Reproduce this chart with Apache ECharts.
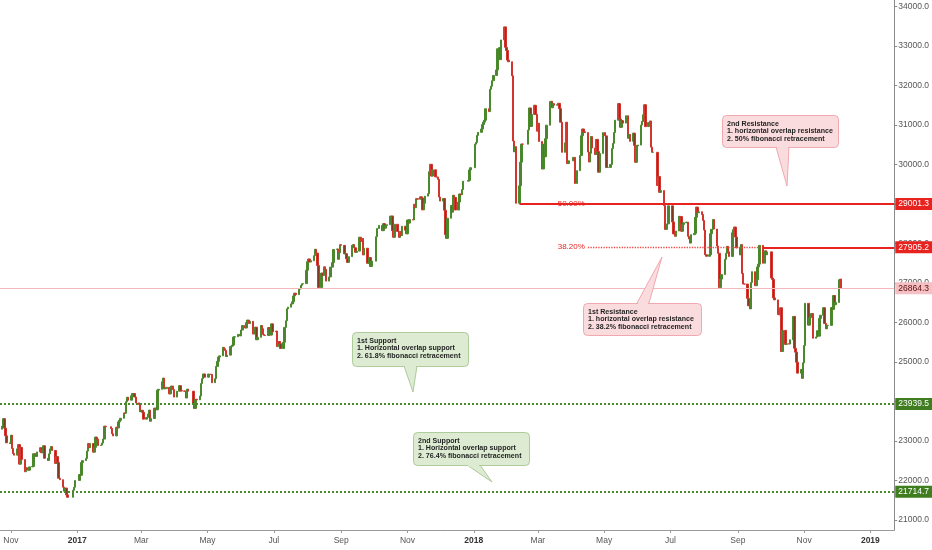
<!DOCTYPE html>
<html>
<head>
<meta charset="utf-8">
<script src="https://cdn.jsdelivr.net/npm/echarts@6/dist/echarts.min.js"></script>
<style>
html,body{margin:0;padding:0;background:#fff;}
#chart{width:932px;height:550px;}
</style>
</head>
<body>
<div id="chart"></div>
<script>
// ---- data ----
const months = ['2016-10','2016-11','2016-12','2017-01','2017-02','2017-03','2017-04','2017-05','2017-06','2017-07','2017-08','2017-09','2017-10','2017-11','2017-12','2018-01','2018-02','2018-03','2018-04','2018-05','2018-06','2018-07','2018-08','2018-09','2018-10','2018-11','2018-12'];
const tradingDays = [
 [24,25,26,27,28,31],
 [1,2,3,4,7,8,9,10,11,14,15,16,17,18,21,22,23,24,25,28,29,30],
 [1,2,5,6,7,8,9,12,13,14,15,16,19,20,21,22,23,28,29,30],
 [3,4,5,6,9,10,11,12,13,16,17,18,19,20,23,24,25,26,27],
 [1,2,3,6,7,8,9,10,13,14,15,16,17,20,21,22,23,24,27,28],
 [1,2,3,6,7,8,9,10,13,14,15,16,17,20,21,22,23,24,27,28,29,30,31],
 [3,5,6,7,10,11,12,13,18,19,20,21,24,25,26,27,28],
 [2,4,5,8,9,10,11,12,15,16,17,18,19,22,23,24,25,26,29,31],
 [1,2,5,6,7,8,9,12,13,14,15,16,19,20,21,22,23,26,27,28,29,30],
 [3,4,5,6,7,10,11,12,13,14,17,18,19,20,21,24,25,26,27,28,31],
 [1,2,3,4,7,8,9,10,11,14,15,16,17,18,21,22,24,25,28,29,30,31],
 [1,4,5,6,7,8,11,12,13,14,15,18,19,20,21,22,25,26,27,28,29],
 [3,4,6,9,10,11,12,13,16,17,18,19,20,23,24,25,26,27,30,31],
 [1,2,3,6,7,8,9,10,13,14,15,16,17,20,21,22,23,24,27,28,29,30],
 [1,4,5,6,7,8,11,12,13,14,15,18,19,20,21,22,27,28,29],
 [2,3,4,5,8,9,10,11,12,15,16,17,18,19,22,23,24,25,26,29,30,31],
 [1,2,5,6,7,8,9,12,13,14,15,20,21,22,23,26,27,28],
 [1,2,5,6,7,8,9,12,13,14,15,16,19,20,21,22,23,26,27,28,29],
 [3,4,6,9,10,11,12,13,16,17,18,19,20,23,24,25,26,27,30],
 [2,3,4,7,8,9,10,11,14,15,16,17,18,21,23,24,25,28,29,30,31],
 [1,4,5,6,7,8,11,12,13,14,15,19,20,21,22,25,26,27,28,29],
 [3,4,5,6,9,10,11,12,13,16,17,18,19,20,23,24,25,26,27,30,31],
 [1,2,3,6,7,8,9,10,13,14,15,16,17,20,21,22,23,24,27,28,29,30,31],
 [3,4,5,6,7,10,11,12,13,14,17,18,19,20,21,24,26,27,28],
 [2,3,4,5,8,9,10,11,12,15,16,18,19,22,23,24,25,26,29,30,31],
 [1,2,5,6,7,8,9,12,13,14,15,16,19,20,21,22,23,26,27,28,29,30],
 [3,4,5]
];
const firstOpen = 23300;
const closes = [
 [23374,23565,23325,23132,22954,22934],
 [23147,22810,22683,22642,22801,22909,22415,22839,22531,22222,22323,22280,22262,22344,22357,22677,22676,22608,22723,22830,22703,22789],
 [22878,22564,22505,22675,22800,22861,22760,22433,22605,22457,22059,22020,21832,21729,21809,21636,21575,21754,21830,22001],
 [22150,22134,22456,22503,22558,22745,22935,22830,22937,22718,22840,23098,23050,22885,22898,22949,23049,23374,23361],
 [23318,23184,23129,23348,23331,23485,23525,23575,23711,23703,23994,24108,24033,24146,24201,24202,24114,23965,23925,23741],
 [23776,23728,23553,23596,23681,23782,23501,23568,23829,23827,23792,24288,24309,24501,24593,24320,24327,24358,24193,24345,24392,24301,24112],
 [24261,24400,24273,24267,24262,24088,24313,24262,23924,23825,24056,24042,24139,24455,24578,24698,24615],
 [24696,24683,24476,24577,24889,25015,25125,25156,25371,25335,25293,25137,25174,25391,25403,25428,25631,25639,25701,25661],
 [25810,25924,25862,25997,26063,25975,26030,25708,25852,25881,25565,25626,25924,25843,25694,25675,25670,25871,25839,25683,25965,25765],
 [25785,25390,25521,25465,25341,25500,25877,26043,26346,26389,26470,26524,26672,26741,26706,26847,26852,26941,26979,26985,27324],
 [27540,27607,27531,27563,27691,27854,27757,27444,26884,27250,27191,27409,27344,27048,27154,27402,27518,27848,27863,27600,27765,27970],
 [27953,27740,27741,27613,27522,27668,27955,27972,27893,27778,27808,28160,28051,28127,27710,27881,27500,27513,27642,27421,27554],
 [28173,28379,28458,28326,28502,28389,28459,28476,28692,28697,28325,28159,28487,28305,28155,28302,28202,28438,28338,28246],
 [28594,28518,28604,28596,28994,28907,29136,29121,29182,29153,28852,29018,29199,29260,29818,30004,29708,29866,29686,29681,29624,29177],
 [29074,29139,28843,28225,28132,28640,28965,28793,29222,29166,28848,29050,29253,29234,29367,29578,29597,29864,29919],
 [30515,30560,30736,30815,30899,31011,31074,31121,31412,31339,31905,31983,32121,32255,32394,32930,32959,32654,33154,33484,32967,32887],
 [32642,32601,32245,30595,30323,30451,29020,29460,30060,30516,30515,30873,31432,30965,31268,31499,31269,30845],
 [31044,30583,29886,30511,30197,30654,30996,31595,31601,31436,31541,31502,31514,31549,31414,31071,30309,30548,31070,30023,30093],
 [30180,29519,29845,30229,30729,30898,30831,30809,30316,30063,30284,30708,30419,30254,30636,30328,29805,30281,30808],
 [30724,29926,29927,30002,30402,30536,30810,31122,31541,31152,30943,31110,31048,31235,30665,30760,30588,30793,30485,30057,30469],
 [30492,31000,31093,31260,31512,30959,31064,31103,30440,30309,30309,29468,29696,29296,29339,28961,28357,28356,28497,28955],
 [28546,28242,28182,28316,28689,28683,28311,28481,28525,28540,28182,28117,28010,28224,28257,28663,28921,28781,28804,28733,28583],
 [28341,27715,27677,27714,28248,28359,28607,28367,27937,27753,26888,27100,27213,27599,27752,27928,27791,27672,28272,28351,28416,28164,27889],
 [27713,27973,27243,26975,26974,26613,26423,26345,27015,27286,26932,27085,27407,27478,27954,27500,27817,27716,27789],
 [27126,27092,26623,26573,26203,26193,26373,25267,25801,25446,25462,25455,25562,26154,25347,25250,24995,24718,24813,24586,24980],
 [25416,26486,25935,26121,26148,26228,25602,25633,25792,25655,26104,26184,26373,25976,25841,25928,25928,26377,26332,26683,26452,26507],
 [27080,27100,26864.3]
];
const yTickValues = [21000,22000,23000,24000,25000,26000,27000,28000,29000,30000,31000,32000,33000,34000];
const xTickMonths = ['2016-11','2017-01','2017-03','2017-05','2017-07','2017-09','2017-11','2018-01','2018-03','2018-05','2018-07','2018-09','2018-11','2019-01'];
const monthNames = ['Jan','Feb','Mar','Apr','May','Jun','Jul','Aug','Sep','Oct','Nov','Dec'];
const levels = {res2: 29001.3, res1: 27905.2, last: 26864.3, sup1: 23939.5, sup2: 21714.7};
const levelStarts = {res2: '2018-02-12', fibFrom: '2018-04-16', fibTo: '2018-09-24', res1: '2018-09-24'};
const xMin = '2016-10-22', xMax = '2019-01-23';
const callouts = [
  {lines:['2nd Resistance','1. horizontal overlap resistance','2. 50% fibonacci retracement'], kind:'red'},
  {lines:['1st Resistance','1. horizontal overlap resistance','2. 38.2% fibonacci retracement'], kind:'red'},
  {lines:['1st Support','1. Horizontal overlap support','2. 61.8% fibonacci retracement'], kind:'green'},
  {lines:['2nd Support','1. Horizontal overlap support','2. 76.4% fibonacci retracement'], kind:'green'}
];

// ---- build candles ----
function pad(n){return (n<10?'0':'')+n;}
function ts(s){const p=s.split('-').map(Number);return Date.UTC(p[0],p[1]-1,p[2]||1);}
const candles = [];
let prev = firstOpen;
months.forEach((m,i)=>{
  tradingDays[i].forEach((d,j)=>{
    const c = closes[i][j], o = prev;
    candles.push([ts(m+'-'+pad(d)), o, c, Math.min(o,c), Math.max(o,c)]);
    prev = c;
  });
});

const RED='#e8231f', GREEN='#3f7d20', FONT='"Liberation Sans", Arial, sans-serif';
function tag(bg, fg, v){
  return {show:true, position:'end', distance:1, backgroundColor:bg, color:fg, fontSize:8.5,
    fontFamily:FONT, padding:[2,3,1,3], formatter:v.toFixed(1)};
}
const markLineData = [
  [{coord:[ts(levelStarts.res2), levels.res2], lineStyle:{color:RED,width:2,type:'solid'}, label:tag(RED,'#fff',levels.res2)},
   {coord:[ts(xMax), levels.res2]}],
  [{coord:[ts(levelStarts.fibFrom), levels.res2], lineStyle:{color:RED,width:1,type:'dotted'},
    label:{show:true,position:'start',distance:3,color:RED,fontSize:8,fontFamily:FONT,formatter:'50.00%'}},
   {coord:[ts(levelStarts.fibTo), levels.res2]}],
  [{coord:[ts(levelStarts.fibFrom), levels.res1], lineStyle:{color:'#ec4a46',width:1.3,type:'dotted'},
    label:{show:true,position:'start',distance:3,color:RED,fontSize:8,fontFamily:FONT,formatter:'38.20%'}},
   {coord:[ts(levelStarts.fibTo), levels.res1]}],
  [{coord:[ts(levelStarts.res1), levels.res1], lineStyle:{color:RED,width:2,type:'solid'}, label:tag(RED,'#fff',levels.res1)},
   {coord:[ts(xMax), levels.res1]}],
  {yAxis: levels.last, lineStyle:{color:'#f5b7bb',width:1,type:'solid'}, label:tag('#f4c0c3','#5a0d0d',levels.last)},
  {yAxis: levels.sup1, lineStyle:{color:'#4a8a2c',width:2,type:'dotted'}, label:tag(GREEN,'#fff',levels.sup1)},
  {yAxis: levels.sup2, lineStyle:{color:'#4a8a2c',width:2,type:'dotted'}, label:tag(GREEN,'#fff',levels.sup2)}
];

const xTicks = xTickMonths.map(ts);
const chart = echarts.init(document.getElementById('chart'), null, {renderer:'canvas'});
const option = {
  animation:false,
  backgroundColor:'#ffffff',
  grid:{left:0,right:37,top:0,bottom:20,containLabel:false},
  xAxis:{
    type:'value', min:ts(xMin), max:ts(xMax), scale:true,
    axisLine:{show:true,lineStyle:{color:'#9a9a9a',width:1}},
    axisTick:{show:true,length:3,lineStyle:{color:'#9a9a9a'},customValues:xTicks},
    splitLine:{show:false},
    axisLabel:{
      customValues:xTicks, margin:6, fontSize:8.5, fontFamily:FONT, color:'#555',
      formatter:function(v){const d=new Date(v);return d.getUTCMonth()===0?'{yr|'+d.getUTCFullYear()+'}':monthNames[d.getUTCMonth()];},
      rich:{yr:{fontWeight:'bold',color:'#333',fontSize:8.5,fontFamily:FONT}}
    }
  },
  yAxis:{
    type:'value', position:'right', min:20747, max:34165, scale:true,
    axisLine:{show:true,lineStyle:{color:'#8a8a8a',width:1}},
    axisTick:{show:true,length:3,inside:false,lineStyle:{color:'#8a8a8a'},customValues:yTickValues},
    splitLine:{show:false},
    axisLabel:{customValues:yTickValues, margin:4, fontSize:8.5, fontFamily:FONT, color:'#555',
      formatter:v=>v.toFixed(1)}
  },
  series:[{
    type:'candlestick',
    data:candles,
    encode:{x:0,y:[1,2,3,4]},
    barWidth:2,
    clip:false,
    itemStyle:{color:'#4d8330',color0:'#7e3b22',borderColor:'#4a8a2c',borderColor0:'#d2352d',borderWidth:1},
    markLine:{silent:true,symbol:['none','none'],animation:false,data:markLineData}
  }]
};
chart.setOption(option);

// ---- callouts (annotation boxes) ----
const boxGeo = [
  {x:722,y:115,w:116,h:32, base:[776,789], side:'bottom', tip:[787,186]},
  {x:583,y:303,w:118,h:32, base:[637,649], side:'top', tip:[662,257]},
  {x:352,y:332,w:116,h:34, base:[404,417], side:'bottom', tip:[413,392]},
  {x:413,y:432,w:116,h:33, base:[467,480], side:'bottom', tip:[492,482]}
];
const styles = {
  red:{fill:'#fbdcde',stroke:'#f0a9b0'},
  green:{fill:'#dcebd2',stroke:'#aecb9b'}
};
const elements = [];
callouts.forEach((c,i)=>{
  const g = boxGeo[i], st = styles[c.kind];
  const by = g.side==='bottom' ? g.y+g.h : g.y;
  elements.push({type:'polygon', shape:{points:[[g.base[0],by],[g.tip[0],g.tip[1]],[g.base[1],by]]},
    style:{fill:st.fill,stroke:st.stroke,lineWidth:1}, z:100});
  elements.push({type:'rect', shape:{x:g.x+0.5,y:g.y+0.5,width:g.w,height:g.h,r:4},
    style:{fill:st.fill,stroke:st.stroke,lineWidth:1}, z:101});
  elements.push({type:'rect', shape:{x:g.base[0]+1,y:by-1.5,width:g.base[1]-g.base[0]-2,height:3},
    style:{fill:st.fill}, z:102});
  elements.push({type:'text', x:g.x+5, y:g.y+5, scaleX:0.885, z:103,
    style:{text:c.lines.join('\n'), font:'bold 8px '+FONT, fill:'#1f1f1f', lineHeight:7.5, verticalAlign:'top', align:'left'}});
});
chart.setOption({graphic:{elements:elements}});
</script>
</body>
</html>
